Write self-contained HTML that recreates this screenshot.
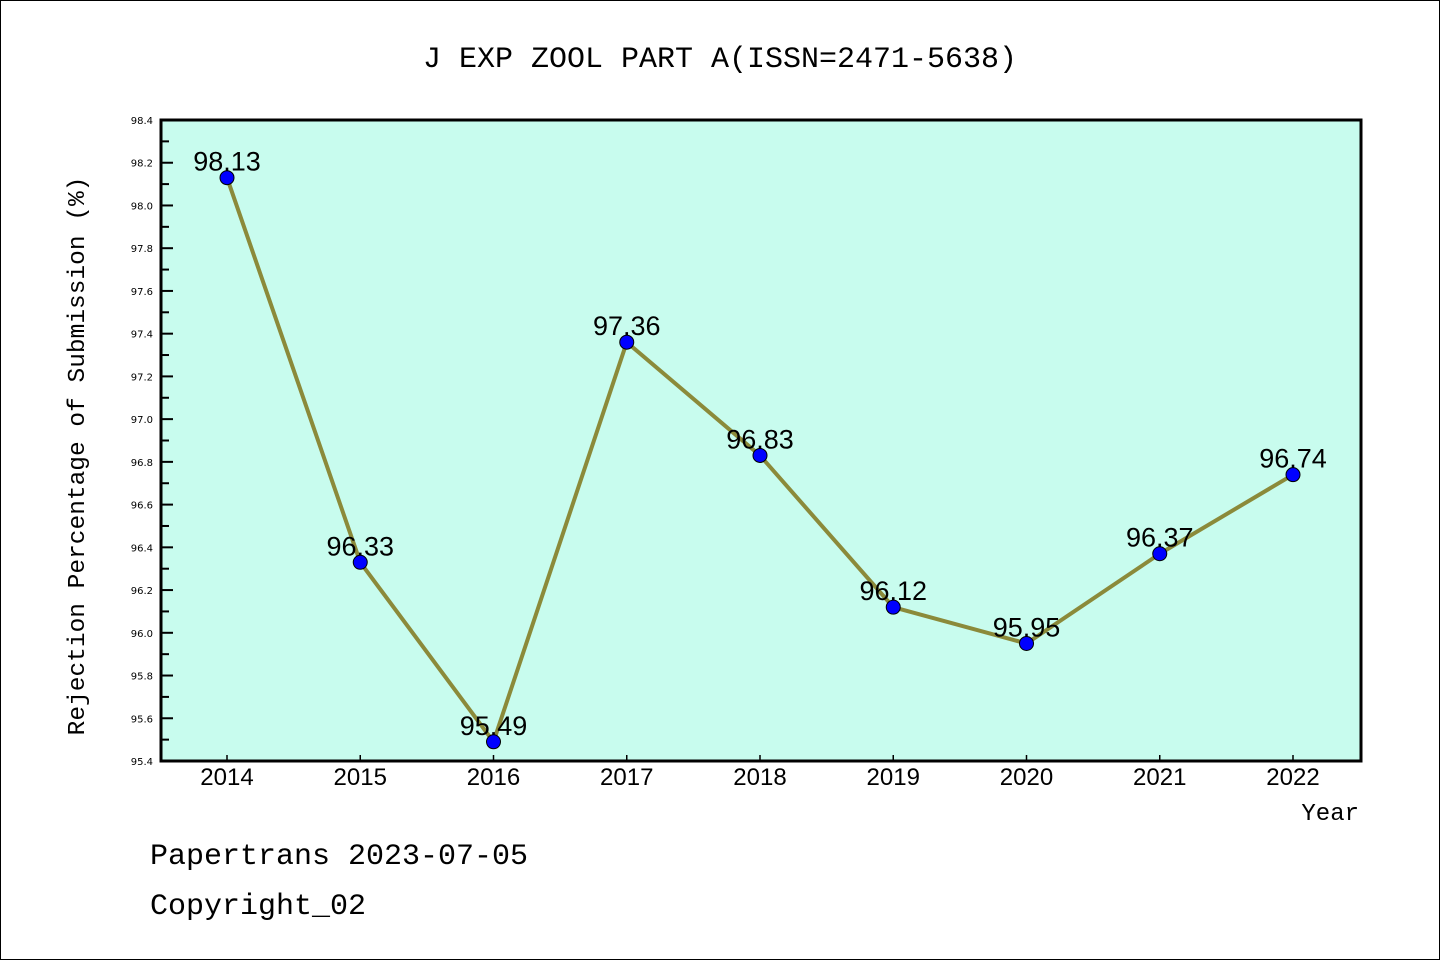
<!DOCTYPE html>
<html><head><meta charset="utf-8"><style>
body{margin:0;background:#fff}
svg{display:block}
</style></head><body>
<svg width="1440" height="960" xmlns="http://www.w3.org/2000/svg">
<rect x="0.5" y="0.5" width="1439" height="959" fill="#fff" stroke="#000"/>
<text x="720" y="67" text-anchor="middle" font-family="Liberation Mono, monospace" font-size="30">J EXP ZOOL PART A(ISSN=2471-5638)</text>
<rect x="161" y="120" width="1200" height="641" fill="#c8fcee"/>
<g id="axes"></g>
<g id="series"></g>
<rect x="161" y="120" width="1200" height="641" fill="none" stroke="#000" stroke-width="3"/>
<text transform="translate(84,456) rotate(-90)" text-anchor="middle" font-family="Liberation Mono, monospace" font-size="24.5">Rejection Percentage of Submission (%)</text>
<text x="1359" y="820" text-anchor="end" font-family="Liberation Mono, monospace" font-size="24">Year</text>
<text x="150" y="864" font-family="Liberation Mono, monospace" font-size="30">Papertrans 2023-07-05</text>
<text x="150" y="914" font-family="Liberation Mono, monospace" font-size="30">Copyright_02</text>
</svg>
<script>
const years = ["2014","2015","2016","2017","2018","2019","2020","2021","2022"];
const values = [98.13,96.33,95.49,97.36,96.83,96.12,95.95,96.37,96.74];
const yTicks = ["95.4","95.6","95.8","96.0","96.2","96.4","96.6","96.8","97.0","97.2","97.4","97.6","97.8","98.0","98.2","98.4"];
const NS="http://www.w3.org/2000/svg";
const yMin=95.4,yMax=98.4,plotTop=120,plotBot=761,plotLeft=161;
const yScale=v=>plotBot-(v-yMin)/(yMax-yMin)*(plotBot-plotTop);
const xScale=i=>227+i*133.25;
const axesG=document.getElementById('axes'),serG=document.getElementById('series');
function mk(t,a,p){const e=document.createElementNS(NS,t);for(const k in a)e.setAttribute(k,a[k]);p.appendChild(e);return e;}
yTicks.forEach((t,i)=>{
  const v=parseFloat(t),yy=yScale(v);
  const l=mk('line',{x1:plotLeft,x2:plotLeft+12,y1:yy,y2:yy,stroke:'#000','stroke-width':2},axesG);
  
  
  const tx=mk('text',{x:153,y:yy+4,'text-anchor':'end','font-family':'DejaVu Sans, sans-serif','font-size':10},axesG);
  tx.textContent=t;
  
  
  if(i<yTicks.length-1){const ym=yScale(v+0.1);
    const m=mk('line',{x1:plotLeft,x2:plotLeft+8,y1:ym,y2:ym,stroke:'#000','stroke-width':2},axesG);
    
    }
});
years.forEach((t,i)=>{
  const l=mk('line',{x1:xScale(i),x2:xScale(i),y1:plotBot,y2:plotBot-6,stroke:'#000','stroke-width':1.5},axesG);
  
  
  const tx=mk('text',{x:xScale(i),y:785,'text-anchor':'middle','font-family':'Liberation Sans, sans-serif','font-size':24},axesG);
  tx.textContent=t;
  
  
});
const pl=mk('polyline',{points:values.map((v,i)=>xScale(i)+','+yScale(v)).join(' '),fill:'none',stroke:'#8b8a3a','stroke-width':4,'stroke-linejoin':'round'},serG);


values.forEach((v,i)=>{
  const c=mk('circle',{cx:xScale(i),cy:yScale(v),r:7,fill:'#0000ff',stroke:'#000','stroke-width':1},serG);
  
  
  const tx=mk('text',{x:xScale(i),y:yScale(v)-7,'text-anchor':'middle','font-family':'Liberation Sans, sans-serif','font-size':27},serG);
  tx.textContent=v.toFixed(2);
  
  
});
</script>
</body></html>
